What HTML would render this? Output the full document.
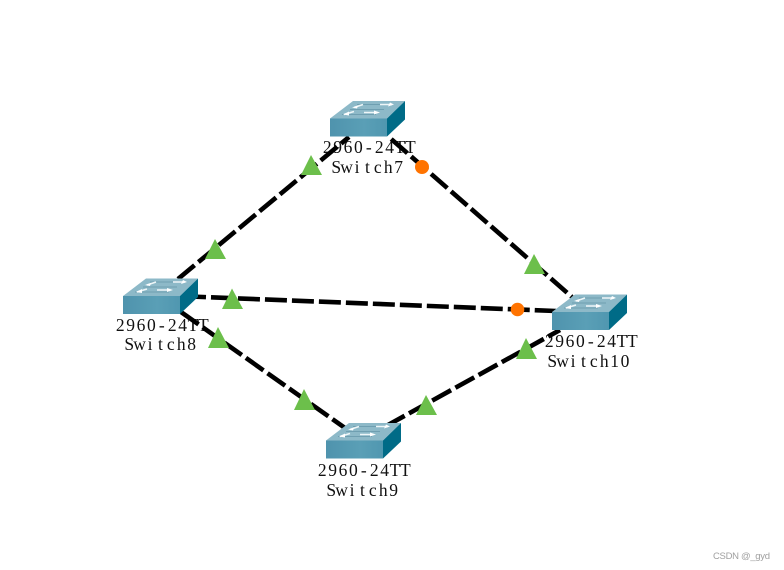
<!DOCTYPE html>
<html>
<head>
<meta charset="utf-8">
<style>
html,body{margin:0;padding:0;background:#fff;width:784px;height:570px;overflow:hidden}
svg{display:block}
.l{font-family:"Liberation Serif",serif;font-size:17.5px;fill:#111;text-anchor:middle}
.n{fill:none;stroke:#000;stroke-width:4.6;stroke-dasharray:21.5 5}
.t{fill:#6cbf4b}
.c{fill:#ff7300}
</style>
</head>
<body>
<svg width="784" height="570" viewBox="0 0 784 570" xmlns="http://www.w3.org/2000/svg">
<defs>
<linearGradient id="f" x1="0" y1="0" x2="1" y2="0">
<stop offset="0" stop-color="#4f93ad"/><stop offset="0.6" stop-color="#5a9fb6"/><stop offset="1" stop-color="#5097b0"/>
</linearGradient>
<g id="sw">
<polygon points="0,0 23,-17.5 75,-17.5 57,0" fill="#8db9c8"/>
<polygon points="0,0 57,0 57,18 0,18" fill="url(#f)"/>
<polygon points="57,0 75,-17.5 75,1 57,18" fill="#006b87"/>
<g stroke="#6f9fb1" stroke-width="1" fill="none">
<path d="M27,-14 L62,-14 M20,-9 L54,-9 M12,-4 L46,-4"/>
</g>
<g stroke="#eef6f8" stroke-width="1.6" fill="none">
<path d="M24,-11 L33,-14 M50,-14 L62,-14 M14,-4 L24,-7 M34,-6 L47,-6"/>
</g>
<polygon points="60,-16 64,-14 58,-12" fill="#fff"/>
<polygon points="22,-11 28,-13 27,-10" fill="#fff"/>
<polygon points="13,-4 19,-7 19,-3" fill="#fff"/>
<polygon points="44,-8 50,-6 44,-4" fill="#fff"/>
</g>
</defs>

<text class="l" y="153" x="327.2 337.6 348 358.4 368.8 379.2 389.6 400 410.4">2960-24TT</text>
<text class="l" y="173" x="336.2 346.6 357 367.4 377.8 388.2 398.6">Switch7</text>
<text class="l" y="331" x="120.2 130.6 141 151.4 161.8 172.2 182.6 193 203.4">2960-24TT</text>
<text class="l" y="350" x="129.2 139.6 150 160.4 170.8 181.2 191.6">Switch8</text>
<text class="l" y="347" x="549.2 559.6 570 580.4 590.8 601.2 611.6 622 632.4">2960-24TT</text>
<text class="l" y="367" x="552.2 562.6 573 583.4 593.8 604.2 614.6 625">Switch10</text>
<text class="l" y="476" x="322.2 332.6 343 353.4 363.8 374.2 384.6 395 405.4">2960-24TT</text>
<text class="l" y="496" x="331.2 341.6 352 362.4 372.8 383.2 393.6">Switch9</text>

<line class="n" x1="178" y1="279" x2="349" y2="137"/>
<line class="n" x1="390" y1="138" x2="572" y2="297" stroke-dashoffset="-1.6"/>
<line class="n" x1="190" y1="296.5" x2="556" y2="311" style="stroke-dasharray:22 5" stroke-dashoffset="6"/>
<line class="n" x1="181" y1="312" x2="345" y2="428"/>
<line class="n" x1="388" y1="425" x2="560" y2="330" stroke-dashoffset="2.5"/>

<use href="#sw" x="330" y="118.5"/>
<use href="#sw" x="123" y="296"/>
<use href="#sw" x="552" y="312"/>
<use href="#sw" x="326" y="440.5"/>

<polygon class="t" points="311,155 301,175 322,175"/>
<polygon class="t" points="215,239 205,259 226,259"/>
<polygon class="t" points="534,254 524,274 545,274"/>
<polygon class="t" points="232,288.5 222,309 243,309"/>
<polygon class="t" points="218,327 208,348 229,348"/>
<polygon class="t" points="304,389 294,410 315,410"/>
<polygon class="t" points="426,395 416,415 437,415"/>
<polygon class="t" points="526,338 516,359 537,359"/>

<circle class="c" cx="422" cy="167" r="7"/>
<circle class="c" cx="517.5" cy="309.5" r="6.8"/>

<text x="713" y="559" font-family="'Liberation Sans',sans-serif" font-size="9.5" fill="#a0a0a0" textLength="57" lengthAdjust="spacing">CSDN @_gyd</text>
</svg>
</body>
</html>
